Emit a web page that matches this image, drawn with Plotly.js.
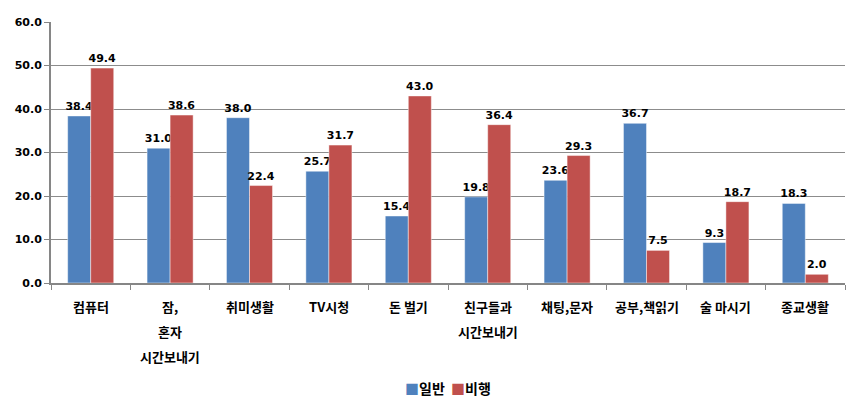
<!DOCTYPE html>
<html>
<head>
<meta charset="utf-8">
<script src="https://cdn.plot.ly/plotly-3.0.1.min.js"></script>
<style>body{margin:0;padding:0;background:#fff}#chart{width:866px;height:410px}</style>
</head>
<body>
<div id="chart"></div>
<script>
const categories = ["컴퓨터", "잠,<br>혼자<br>시간보내기", "취미생활", "TV시청", "돈 벌기", "친구들과<br>시간보내기", "채팅,문자", "공부,책읽기", "술 마시기", "종교생활"];
const seriesNames = ["일반", "비행"];
const general = [38.4, 31.0, 38.0, 25.7, 15.4, 19.8, 23.6, 36.7, 9.3, 18.3];
const delinquent = [49.4, 38.6, 22.4, 31.7, 43.0, 36.4, 29.3, 7.5, 18.7, 2.0];
const yTicks = [0, 10, 20, 30, 40, 50, 60];
const colors = ["#4f81bd", "#c0504d"];

const numFont = {family: "DejaVu Sans", size: 11, color: "#000"};
const korFont = {family: "Noto Sans CJK KR", size: 13, color: "#000"};
const mk = (name, vals, color) => ({
  type: "bar", name: name, x: categories, y: vals,
  marker: {color: color, line: {color: "rgba(255,255,255,0.45)", width: 1}},
  text: vals.map(v => "<b>" + v.toFixed(1) + "</b>"),
  textposition: "outside", cliponaxis: false, constraintext: "none",
  textfont: numFont
});
const data = [
  mk(seriesNames[0], general, colors[0]),
  mk(seriesNames[1], delinquent, colors[1])
];

// category labels drawn line by line to reproduce the wide line spacing
const annotations = [];
categories.forEach(c => {
  c.split("<br>").forEach((line, i) => {
    annotations.push({
      x: c, xref: "x", y: 0, yref: "paper", yanchor: "middle", xanchor: "center",
      yshift: -(23 + 25 * i), showarrow: false,
      text: "<b>" + line + "</b>", font: korFont
    });
  });
});
// legend
annotations.push({
  x: 0.5, xref: "paper", y: 0, yref: "paper", yanchor: "middle", xanchor: "center",
  yshift: -105, showarrow: false,
  text: seriesNames.map((n, i) => "<span style='color:" + colors[i] + "'>■</span><b>" + n + "</b>").join("  "),
  font: {family: "Noto Sans CJK KR", size: 14, color: "#000"}
});

const layout = {
  width: 866, height: 410,
  margin: {l: 51, r: 21, t: 22, b: 127, autoexpand: false},
  paper_bgcolor: "#fff", plot_bgcolor: "#fff",
  barmode: "group", bargap: 0.42, bargroupgap: 0,
  showlegend: false,
  annotations: annotations,
  xaxis: {
    type: "category", automargin: false,
    showline: true, linecolor: "#868686", linewidth: 2,
    ticks: "outside", ticklen: 5, tickcolor: "#868686", tickson: "boundaries",
    showticklabels: false,
    showgrid: false
  },
  yaxis: {
    range: [0, 60], automargin: false,
    tickvals: yTicks, ticktext: yTicks.map(v => "<b>" + v.toFixed(1) + "</b>"),
    showline: true, linecolor: "#868686", linewidth: 2,
    ticks: "outside", ticklen: 5, tickcolor: "#868686",
    showgrid: true, gridcolor: "#8c8c8c", gridwidth: 1,
    zeroline: false,
    tickfont: numFont
  }
};
Plotly.newPlot("chart", data, layout, {displayModeBar: false, staticPlot: true});
</script>
</body>
</html>
